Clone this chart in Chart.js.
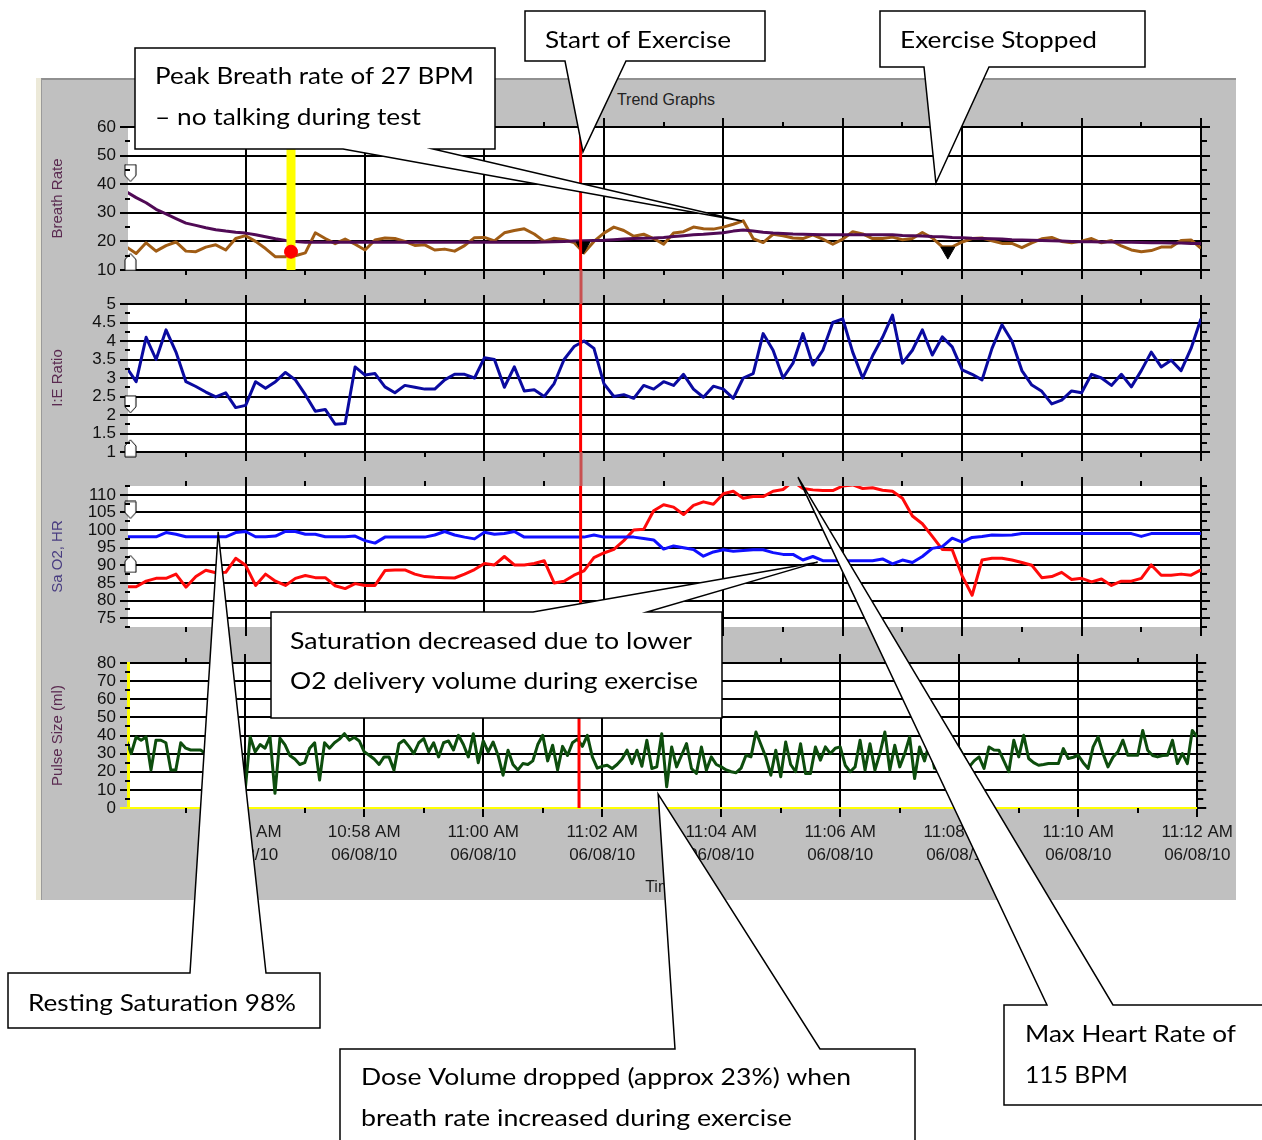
<!DOCTYPE html>
<html lang="en">
<head>
	<meta charset="UTF-8">
	<title>Trend Graphs</title>
	<script src="https://cdn.jsdelivr.net/npm/chart.js"></script>
	<style>
		html, body { margin: 0; padding: 0; background: #fff; }
		body { width: 1262px; height: 1140px; position: relative; overflow: hidden; }
		#strip { position: absolute; left: 36px; top: 78px; width: 5px; height: 822px; background: #ece9d8; }
		#frame { position: absolute; left: 41px; top: 78px; width: 1195px; height: 822px; background: #c0c0c0;
			border-top: 2px solid #909090; border-left: 1px solid #9a9a9a; box-sizing: border-box; }
		#title { position: absolute; left: 566px; width: 200px; top: 91px; text-align: center;
			font: 16px "Liberation Sans", Arial, sans-serif; color: #222; }
		canvas.panel { position: absolute; }
		#overlay { position: absolute; left: 0; top: 0; }
	</style>
</head>
<body>
	<div id="strip"></div>
	<div id="frame"></div>
	<div id="title">Trend Graphs</div>
	<canvas class="panel" id="breath"></canvas>
	<canvas class="panel" id="ie"></canvas>
	<canvas class="panel" id="sat"></canvas>
	<canvas class="panel" id="pulse"></canvas>
	<canvas id="overlay" width="1262" height="1140"></canvas>

	<script>
		// ---------- data ----------
		const T0 = 54;              // first sample, minutes after 10:00
		const STEP = 1 / 6;         // trend samples every 10 s
		const PULSE_STEP = 1 / 12;  // pulse size every 5 s
		const X_MIN = 54.03, X_MAX = 72;

		const tickMinutes = [56, 58, 60, 62, 64, 66, 68, 70, 72];
		const timeLabels = ['10:56 AM', '10:58 AM', '11:00 AM', '11:02 AM', '11:04 AM', '11:06 AM', '11:08 AM', '11:10 AM', '11:12 AM'];
		const dateLabel = '06/08/10';

		const breathTicks = [10, 20, 30, 40, 50, 60];
		const ieTicks = [1, 1.5, 2, 2.5, 3, 3.5, 4, 4.5, 5];
		const satTicks = [75, 80, 85, 90, 95, 100, 105, 110];
		const pulseTicks = [0, 10, 20, 30, 40, 50, 60, 70, 80];

		const breathRate = [18.1,15.8,19.5,16.6,18.5,19.8,16.6,16.4,18,18.8,
			17,21,22,20,17.5,14.6,14.6,15,16,23,
			21,19.2,20.8,19,17,20.5,21.2,21,20,18.6,
			18.8,17,17.3,16.6,18.5,21.3,21.4,20.2,23,23.8,
			24.4,22.6,20,21.1,20.6,19.6,16,20,22.9,25,
			23.8,21.8,22.5,21,19,22.9,23.4,25,24.4,24.3,
			25,26,27.2,21,19.6,22.5,22,21.2,21,22.3,
			20.8,19,20.8,23.4,22.6,21,21,21.5,20.6,21,
			23.1,21.2,18.1,18.1,19.8,21,21.2,20.2,19.3,19.3,
			17.8,19.5,20.9,21.4,20,19.5,20.1,21,19.5,20.3,
			18.4,17,16.4,16.8,18,18,20.3,20.5,17.6];

		const breathAvg = [37.4,35.3,33.5,31.2,29.6,28,26.4,25.6,24.8,24.1,
			23.6,23.2,22.9,22.3,21.6,20.9,20.3,20,19.7,19.7,
			19.7,19.7,19.7,19.7,19.7,19.7,19.7,19.7,19.7,19.7,
			19.7,19.7,19.7,19.7,19.7,19.7,19.7,19.7,19.7,19.7,
			19.7,19.7,19.8,19.9,20,20.1,20.2,20.3,20.4,20.6,
			20.8,21,21.1,21.2,21.4,21.7,22,22.3,22.5,22.8,
			23,23.6,24,23.6,23.2,22.9,22.8,22.6,22.5,22.4,
			22.3,22.3,22.3,22.3,22.3,22.3,22.3,22.3,22.1,22,
			21.9,21.7,21.6,21.4,21.3,21.1,21,20.9,20.8,20.6,
			20.5,20.4,20.3,20.2,20.1,20,19.9,19.9,19.8,19.8,
			19.7,19.7,19.6,19.5,19.5,19.4,19.4,19.3,19.3];

		const ieRatio = [3.3,2.9,4.1,3.5,4.3,3.7,2.9,2.77,2.62,2.49,
			2.6,2.2,2.26,2.9,2.72,2.9,3.15,2.95,2.55,2.1,
			2.15,1.75,1.77,3.3,3.08,3.12,2.76,2.6,2.8,2.75,
			2.7,2.7,2.95,3.1,3.1,3.0,3.55,3.5,2.75,3.3,
			2.65,2.68,2.5,2.85,3.5,3.85,4.0,3.8,2.85,2.5,
			2.55,2.45,2.8,2.7,2.9,2.8,3.1,2.7,2.48,2.78,
			2.7,2.45,3.0,3.12,4.2,3.75,3.0,3.4,4.2,3.35,
			3.75,4.5,4.6,3.7,3.0,3.6,4.1,4.7,3.4,3.75,
			4.3,3.62,4.11,3.84,3.22,3.1,2.95,3.8,4.44,4.0,
			3.2,2.81,2.64,2.3,2.4,2.65,2.6,3.1,3.0,2.8,
			3.1,2.76,3.2,3.7,3.3,3.48,3.2,3.8,4.6];

		const sao2 = [98.1,98.1,98.1,98.1,99.3,98.8,98.1,98.1,98.1,98.1,
			98.1,99.3,99.6,98.1,98.1,98.3,99.6,99.6,98.8,98.8,
			98.1,98.1,98.1,98.3,97,96.3,98,98,98,98,
			98,98.6,99.6,98.6,98,97.5,99.4,98.8,99,99.6,
			98,98,98,98,98,98,98,98.6,98,98,
			98,98,97.6,97.2,94.6,95.5,95,94.5,92.6,93.8,
			94.4,94,94.2,94.4,94.4,93.6,93.1,93.1,91.5,92.5,
			91.3,91.3,91.3,91.3,91.3,91.3,91.8,90.4,91.5,90.8,
			92.5,94.8,95.3,97.7,96.6,97.9,98.2,98.6,98.5,98.6,
			99,99,99,99,99,99,99,99,99,99,
			99,99,98.2,99,99,99,99,99,99];

		const heartRate = [83.9,83.9,85.5,86.3,86.3,87.5,83.8,86.8,88.6,87.9,
			88,92,90,84.3,87.5,85.5,84.3,86.3,87.1,86.5,
			86.5,84.2,83.4,84.8,84.3,84.3,88.5,88.7,88.7,87.5,
			86.8,86.6,86.5,86.4,87.5,88.8,90.5,90.1,92.5,90.1,
			90.1,90.5,91.3,85,85.5,87.2,88.4,92.2,93.5,94.5,
			97,100,100.2,105.5,107.2,106.5,104.4,107,108,107.3,
			110.3,111,109,109.5,109.5,111,111.5,113.8,111.8,111.4,
			111.2,111.2,112.5,112.8,111.8,112,111.3,111,109,104,
			101.8,98.2,94.5,94.4,87,81.5,91.5,92,92,91.5,
			90.8,90,86.5,86.8,88,86,86.3,85.3,86.1,84.3,
			85.5,85.5,86.3,90.1,87.2,87.2,87.5,87.2,88.7];

		const pulseSize = [37.4,30,39.2,37.4,39.2,20.9,37.4,37.4,36,21,
			20.9,36,33,32,32,32,30,32,36,28,
			26,34,30,33,10,39.2,31,35,33,39.2,
			8.1,38.5,35,29,27,24,25,33,36,15.4,
			36,33,36,38,41,37.4,39,37,31,29.1,
			27,24,28.2,28.2,20.9,35.5,37.4,34,30,36,
			38.3,31,36,28.2,36,37,32,40.1,35,28.2,
			41,25,37,31,36.4,29,18.1,31.9,24,21,
			24.5,24,26,35,40.1,26,34.6,21,34,29,
			36,38,34,40.1,28.2,22,23,23.6,21.8,24,
			27,31.9,24.5,31.9,23,37.4,21.8,22.7,41,11.7,
			33.7,22.7,29.1,35.5,21.8,19.1,33.7,20.9,28.2,24,
			22.7,21,20,19.5,22,29.1,28.2,41.9,35,28,
			18.1,31.9,17.2,36.4,24,20,35.5,19.1,19.1,33.7,
			26.4,33.7,30,33,33.7,23.6,20,22.7,37.4,20.9,
			35.5,20.9,30,41.9,20.9,34.6,22.7,30,39.2,16.3,
			33.7,26,36,22,31,25,30,24,33,28,
			22.7,26,28.2,21.8,33.7,32,31.9,26,20,37.4,
			28.2,40.1,27.3,25,23.6,24,24.5,24.5,24.5,32.8,
			27.3,28,29.1,25,21.8,33.7,39.2,30,22.7,28,
			31,37.4,29.1,29.1,29.1,42.8,31.9,29,28.2,29,
			29.1,37.4,24.5,30,24.5,42.8,39.2];

		// event marks
		const exerciseStart = 61.61;
		const peakEventTime = 56.76, peakEventRate = 16.4;
		const triangleTimes = [61.65, 67.76], triangleRates = [18.4, 16.6];
		const limitTime = 54.07;
		const breathLimits = [43.9, 12.8], ieLimits = [2.29, 1.1], satLimits = [105.7, 90.4];

		// ---------- helpers ----------
		Chart.defaults.font.family = '"Liberation Sans", Arial, sans-serif';
		const FRAME_LEFT = 40, FRAME_W = 1196;
		const oddMinutes = tickMinutes.map(m => m - 1);

		function shield(up) {
			const c = document.createElement('canvas');
			c.width = 13; c.height = 19;
			const g = c.getContext('2d');
			g.beginPath();
			if (up) { g.moveTo(6.5, 1); g.lineTo(12, 7); g.lineTo(12, 18); g.lineTo(1, 18); g.lineTo(1, 7); }
			else { g.moveTo(1, 1); g.lineTo(12, 1); g.lineTo(12, 12); g.lineTo(6.5, 18); g.lineTo(1, 12); }
			g.closePath();
			g.fillStyle = '#fff'; g.fill();
			g.strokeStyle = '#000'; g.lineWidth = 1; g.stroke();
			return c;
		}
		const shieldDown = shield(false), shieldUp = shield(true);

		const series = (vals, step, color, order) => ({
			data: vals.map((v, i) => ({ x: T0 + i * step, y: v })),
			borderColor: color, borderWidth: 3, pointRadius: 0, order
		});
		const vline = (t, lo, hi, color, width, order) => ({
			data: [{ x: t, y: lo }, { x: t, y: hi }],
			borderColor: color, borderWidth: width, pointRadius: 0, order
		});
		const limits = (vals) => ({
			data: vals.map(v => ({ x: limitTime, y: v })),
			showLine: false, clip: false, order: 2, pointRadius: 6,
			pointStyle: [shieldDown, shieldUp]
		});

		// white plot area and short minor ticks
		const panelDecor = {
			id: 'panelDecor',
			beforeDraw(chart) {
				const a = chart.chartArea, ctx = chart.ctx;
				ctx.save();
				ctx.fillStyle = '#fff';
				ctx.fillRect(a.left, a.top, a.right - a.left, a.bottom - a.top);
				ctx.restore();
			},
			afterDraw(chart, args, opts) {
				const a = chart.chartArea, ctx = chart.ctx, sx = chart.scales.x, sy = chart.scales.y;
				ctx.save();
				ctx.strokeStyle = '#000';
				ctx.lineWidth = 2;
				ctx.beginPath();
				opts.minorX.forEach(v => {
					const x = Math.round(sx.getPixelForValue(v));
					ctx.moveTo(x, a.top - 5); ctx.lineTo(x, a.top);
					ctx.moveTo(x, a.bottom); ctx.lineTo(x, a.bottom + 5);
				});
				opts.minorY.forEach(v => {
					const y = Math.round(sy.getPixelForValue(v));
					ctx.moveTo(a.left - 3, y); ctx.lineTo(a.left + 2, y);
					ctx.moveTo(a.right, y); ctx.lineTo(a.right + 6, y);
				});
				ctx.stroke();
				ctx.restore();
			}
		};

		function makePanel(id, p) {
			const el = document.getElementById(id);
			el.width = FRAME_W;
			el.height = 20 + (p.bottom - p.top) + p.bottomH;
			el.style.left = FRAME_LEFT + 'px';
			el.style.top = (p.top - 20) + 'px';

			const minors = [];
			for (let k = 0; k < p.ticks.length - 1; k++) minors.push((p.ticks[k] + p.ticks[k + 1]) / 2);
			(p.extraMinor || []).forEach(v => minors.push(v));
			const setTicks = list => s => { s.ticks = list.map(v => ({ value: v })); };
			const showTime = !!p.showTime;

			return new Chart(el, {
				type: 'line',
				data: { datasets: p.datasets },
				options: {
					responsive: false,
					animation: false,
					events: [],
					layout: { padding: 0, autoPadding: false },
					elements: { line: { tension: 0, borderJoinStyle: 'round' } },
					plugins: {
						legend: { display: false },
						tooltip: { enabled: false },
						panelDecor: { minorX: oddMinutes, minorY: minors }
					},
					scales: {
						x: {
							type: 'linear', position: 'bottom', min: X_MIN, max: X_MAX,
							afterBuildTicks: setTicks(tickMinutes),
							afterFit: s => { s.height = p.bottomH; },
							grid: { color: '#000', lineWidth: 2, tickLength: 9 },
							border: { display: false },
							ticks: {
								display: showTime, autoSkip: false, maxRotation: 0, padding: 3,
								color: '#1a1a1a', font: { size: 17, lineHeight: 1.4 },
								callback: v => [timeLabels[tickMinutes.indexOf(v)], dateLabel]
							},
							title: {
								display: showTime, text: 'Time', color: '#1a1a1a',
								font: { size: 16 }, padding: { top: 0, bottom: 3 }
							}
						},
						xTop: {
							type: 'linear', position: 'top', min: X_MIN, max: X_MAX,
							afterBuildTicks: setTicks(tickMinutes),
							afterFit: s => { s.height = 20; },
							grid: { color: '#000', lineWidth: 2, tickLength: 9, drawOnChartArea: false },
							border: { display: false },
							ticks: { display: false }
						},
						y: {
							type: 'linear', position: 'left', min: p.min, max: p.max,
							afterBuildTicks: setTicks(p.ticks),
							afterFit: s => { s.width = 88; },
							grid: { color: p.gridColor || '#000', lineWidth: 2, tickLength: 8 },
							border: p.leftBorder || { display: false },
							ticks: { autoSkip: false, padding: 4, color: '#111', font: { size: 17, lineHeight: 1 }, callback: v => String(v) },
							title: {
								display: true, text: p.title, color: p.titleColor,
								font: { size: 15 }, padding: { top: 9, bottom: 0 }
							}
						},
						yR: {
							type: 'linear', position: 'right', min: p.min, max: p.max,
							afterBuildTicks: setTicks(p.ticks),
							afterFit: s => { s.width = 35; },
							grid: { color: '#000', lineWidth: 2, tickLength: 9, drawOnChartArea: false },
							border: { display: false },
							ticks: { display: false, autoSkip: false }
						}
					}
				},
				plugins: [panelDecor]
			});
		}

		// ---------- panels ----------
		const breathChart = makePanel('breath', {
			top: 127, bottom: 270, bottomH: 20, min: 10, max: 60, ticks: breathTicks,
			title: 'Breath Rate', titleColor: '#5a2a50',
			datasets: [
				vline(exerciseStart, 10, 60, '#ff0000', 3, 0),
				{ data: triangleTimes.map((t, i) => ({ x: t, y: triangleRates[i] })), showLine: false, order: 1,
					pointStyle: 'triangle', pointRotation: 180, pointRadius: 8,
					pointBackgroundColor: '#000', pointBorderColor: '#000' },
				{ data: [{ x: peakEventTime, y: peakEventRate }], showLine: false, order: 1,
					pointRadius: 6.5, pointBackgroundColor: '#ff0000', pointBorderColor: '#ff0000' },
				limits(breathLimits),
				vline(peakEventTime, 10, 60, '#ffff00', 9, 3),
				series(breathAvg, STEP, '#500a55', 4),
				series(breathRate, STEP, '#a05c14', 5)
			]
		});

		const ieChart = makePanel('ie', {
			top: 304, bottom: 452, bottomH: 20, min: 1, max: 5, ticks: ieTicks,
			title: 'I:E Ratio', titleColor: '#5a2a50',
			datasets: [
				vline(exerciseStart, 1, 5, '#ff0000', 3, 0),
				limits(ieLimits),
				series(ieRatio, STEP, '#0a0aa0', 4)
			]
		});

		const satChart = makePanel('sat', {
			top: 486, bottom: 627, bottomH: 20, min: 72.5, max: 112.5, ticks: satTicks,
			extraMinor: [72.5, 112.5],
			title: 'Sa O2, HR', titleColor: '#483c80',
			datasets: [
				vline(exerciseStart, 72.5, 112.5, '#ff0000', 3, 0),
				limits(satLimits),
				series(sao2, STEP, '#1010ff', 4),
				series(heartRate, STEP, '#ff0a0a', 5)
			]
		});

		const pulseChart = makePanel('pulse', {
			top: 663, bottom: 808, bottomH: 92, min: 0, max: 80, ticks: pulseTicks,
			title: 'Pulse Size (ml)', titleColor: '#5a2a50', showTime: true,
			gridColor: ctx => (ctx.tick && ctx.tick.value === 0 ? '#ffff00' : '#000'),
			leftBorder: { display: true, color: '#ffff00', width: 3 },
			datasets: [
				vline(exerciseStart, 0, 80, '#ff0000', 3, 0),
				series(pulseSize, PULSE_STEP, '#0d4d0d', 4)
			]
		});

		// ---------- overlay: marker line in the gaps and callouts ----------
		const charts = [
			{ chart: breathChart, top: 107 },
			{ chart: ieChart, top: 284 },
			{ chart: satChart, top: 466 },
			{ chart: pulseChart, top: 643 }
		];
		function pagePt(k, t, v) {
			const c = charts[k];
			return { x: FRAME_LEFT + c.chart.scales.x.getPixelForValue(t), y: c.top + c.chart.scales.y.getPixelForValue(v) };
		}

		// tw = width each text line takes in the reference
		const callouts = [
			{ lines: ['Start of Exercise'], tw: [186], panel: 0, at: [61.65, 51.3], box: [525, 11, 765, 61], side: 'bottom', base: [565, 626], tx: 545, ty: [40] },
			{ lines: ['Exercise Stopped'], tw: [197], panel: 0, at: [67.56, 40.4], box: [880, 11, 1145, 67], side: 'bottom', base: [924, 989], tx: 900, ty: [40] },
			{ lines: ['Peak Breath rate of 27 BPM', '\u2013 no talking during test'], tw: [319, 266], panel: 0, at: [64.31, 27.1], box: [135, 48, 495, 149], side: 'bottom', base: [343, 433], tx: 155, ty: [76, 117] },
			{ lines: ['Saturation decreased due to lower', 'O2 delivery volume during exercise'], tw: [402, 408], panel: 2, at: [65.58, 90.9], box: [271, 612, 722, 718], side: 'top', base: [533, 647], tx: 290, ty: [641, 681] },
			{ lines: ['Resting Saturation 98%'], tw: [268], panel: 2, at: [55.54, 99.5], box: [8, 973, 320, 1028], side: 'top', base: [190, 266], tx: 28, ty: [1003] },
			{ lines: ['Dose Volume dropped (approx 23%) when', 'breath rate increased during exercise'], tw: [490, 431], panel: 3, at: [62.94, 7.7], box: [340, 1049, 915, 1150], side: 'top', base: [675, 820], tx: 361, ty: [1077, 1118] },
			{ lines: ['Max Heart Rate of', '115 BPM'], tw: [211, 103], panel: 2, at: [65.25, 115], box: [1004, 1005, 1280, 1105], side: 'top', base: [1047, 1113], tx: 1025, ty: [1034, 1075] }
		];

		const g = document.getElementById('overlay').getContext('2d');

		// exercise marker through the grey gaps between panels
		const gaps = [[270, 304], [452, 486], [627, 663]];
		const mx = Math.round(pagePt(0, exerciseStart, 10).x);
		g.strokeStyle = '#c85050';
		g.lineWidth = 3;
		gaps.forEach(([a, b]) => { g.beginPath(); g.moveTo(mx, a); g.lineTo(mx, b); g.stroke(); });

		callouts.forEach(c => {
			const tip = pagePt(c.panel, c.at[0], c.at[1]);
			const [L, T, R, B] = c.box, [b1, b2] = c.base;
			g.beginPath();
			if (c.side === 'bottom') {
				g.moveTo(L, T); g.lineTo(R, T); g.lineTo(R, B); g.lineTo(b2, B);
				g.lineTo(tip.x, tip.y); g.lineTo(b1, B); g.lineTo(L, B);
			} else {
				g.moveTo(L, T); g.lineTo(b1, T); g.lineTo(tip.x, tip.y); g.lineTo(b2, T);
				g.lineTo(R, T); g.lineTo(R, B); g.lineTo(L, B);
			}
			g.closePath();
			g.fillStyle = '#fff';
			g.fill();
			g.strokeStyle = '#000';
			g.lineWidth = 1.5;
			g.stroke();
			g.fillStyle = '#000';
			g.font = '24px Lato';
			g.textBaseline = 'middle';
			c.lines.forEach((s, k) => {
				const sx = c.tw[k] / g.measureText(s).width;
				g.save();
				g.translate(c.tx, c.ty[k]);
				g.scale(sx, 1);
				g.fillText(s, 0, 0);
				g.restore();
			});
		});
	</script>
</body>
</html>
